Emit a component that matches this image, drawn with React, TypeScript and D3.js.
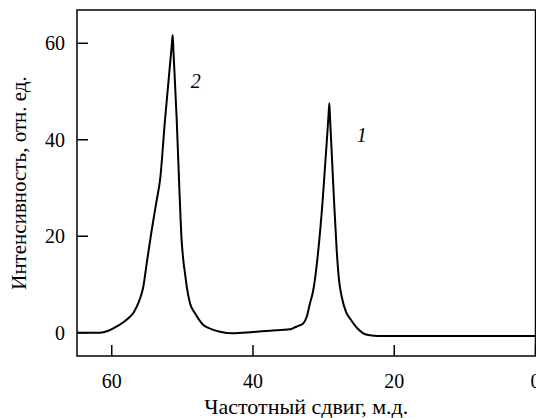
import React from "react";
import * as d3 from "d3";

// Frequency shift (ppm), listed from left (high) to right (low)
const shiftPpm = [
  64.9, 61.7, 60.5, 59.1, 57.65, 56.9, 56.46, 55.9, 55.53, 55.05, 54.34, 53.63, 53.16, 52.46, 51.5, 51.37,
  51.28, 50.8, 50.43, 50.12, 49.87, 49.6, 49.38, 48.92, 48.21, 47.6, 47.03, 46.0, 44.67, 42.97, 40.0, 37.59,
  34.76, 34.05, 33.4, 32.88, 32.39, 31.93, 31.46, 30.75, 30.13, 29.3, 29.19, 29.1, 28.53, 28.15, 27.82, 27.44,
  26.83, 26.12, 25.27, 24.38, 23.43, 22.3, 0,
];
const intensity = [
  0, 0, 0.4, 1.45, 2.99, 4.2, 5.39, 7.5, 9.54, 14.39, 21.29, 27.51, 31.66, 44.1, 59.6, 61.73,
  58.9, 44.1, 30.0, 19.5, 15.07, 12.0, 9.54, 6.1, 4.02, 2.6, 1.6, 0.8, 0.21, -0.12, 0.15, 0.41,
  0.7, 1.12, 1.5, 1.95, 3.32, 6.1, 8.85, 17.15, 27.51, 45.2, 47.56, 44.8, 27.51, 17.15, 10.9, 7.46,
  4.3, 2.63, 0.97, -0.12, -0.54, -0.68, -0.68,
];
const xTicks = [60, 40, 20, 0];
const yTicks = [0, 20, 40, 60];
const peakLabels = [
  { text: "2", x: 48.1, y: 50.8 },
  { text: "1", x: 24.6, y: 39.6 },
];
const xTitle = "Частотный сдвиг, м.д.";
const yTitle = "Интенсивность, отн. ед.";

export default function App() {
  const W = 536, H = 418;
  const left = 77, right = 535.5, top = 10, bottom = 356;
  const x = d3.scaleLinear().domain([64.92, 0]).range([left, right]);
  const y = d3.scaleLinear().domain([-4.83, 66.9]).range([bottom, top]);
  const pts: [number, number][] = shiftPpm.map((s, i) => [s, intensity[i]]);
  const line = d3
    .line<[number, number]>()
    .x((d) => x(d[0]))
    .y((d) => y(d[1]))
    .curve(d3.curveMonotoneX);
  const font = "'Liberation Serif', 'Times New Roman', serif";
  return (
    <div style={{ position: "fixed", left: 0, top: 0 }}>
      <svg width={W} height={H} style={{ display: "block", background: "#fff" }}>
        <rect x={left} y={top} width={right - left} height={bottom - top} fill="none" stroke="#000" strokeWidth={1.5} />
        {yTicks.map((t) => (
          <g key={"y" + t}>
            <line x1={left} x2={left + 11} y1={y(t)} y2={y(t)} stroke="#000" strokeWidth={1.5} />
            <text x={left - 12} y={y(t)} dy="0.35em" textAnchor="end" fontFamily={font} fontSize={20}>
              {t}
            </text>
          </g>
        ))}
        {xTicks.map((t) => (
          <g key={"x" + t}>
            <line x1={x(t)} x2={x(t)} y1={bottom} y2={bottom - 11} stroke="#000" strokeWidth={1.5} />
            <text x={x(t)} y={388} textAnchor="middle" fontFamily={font} fontSize={20}>
              {t}
            </text>
          </g>
        ))}
        <path d={line(pts) || ""} fill="none" stroke="#000" strokeWidth={2} strokeLinejoin="round" />
        {peakLabels.map((p) => (
          <text key={p.text} x={x(p.x)} y={y(p.y)} textAnchor="middle" fontFamily={font} fontStyle="italic" fontSize={20}>
            {p.text}
          </text>
        ))}
        <text x={(left + right) / 2} y={414} textAnchor="middle" fontFamily={font} fontSize={22}>
          {xTitle}
        </text>
        <text
          transform={`translate(26, ${(top + bottom) / 2}) rotate(-90)`}
          textAnchor="middle"
          fontFamily={font}
          fontSize={21}
        >
          {yTitle}
        </text>
      </svg>
    </div>
  );
}
